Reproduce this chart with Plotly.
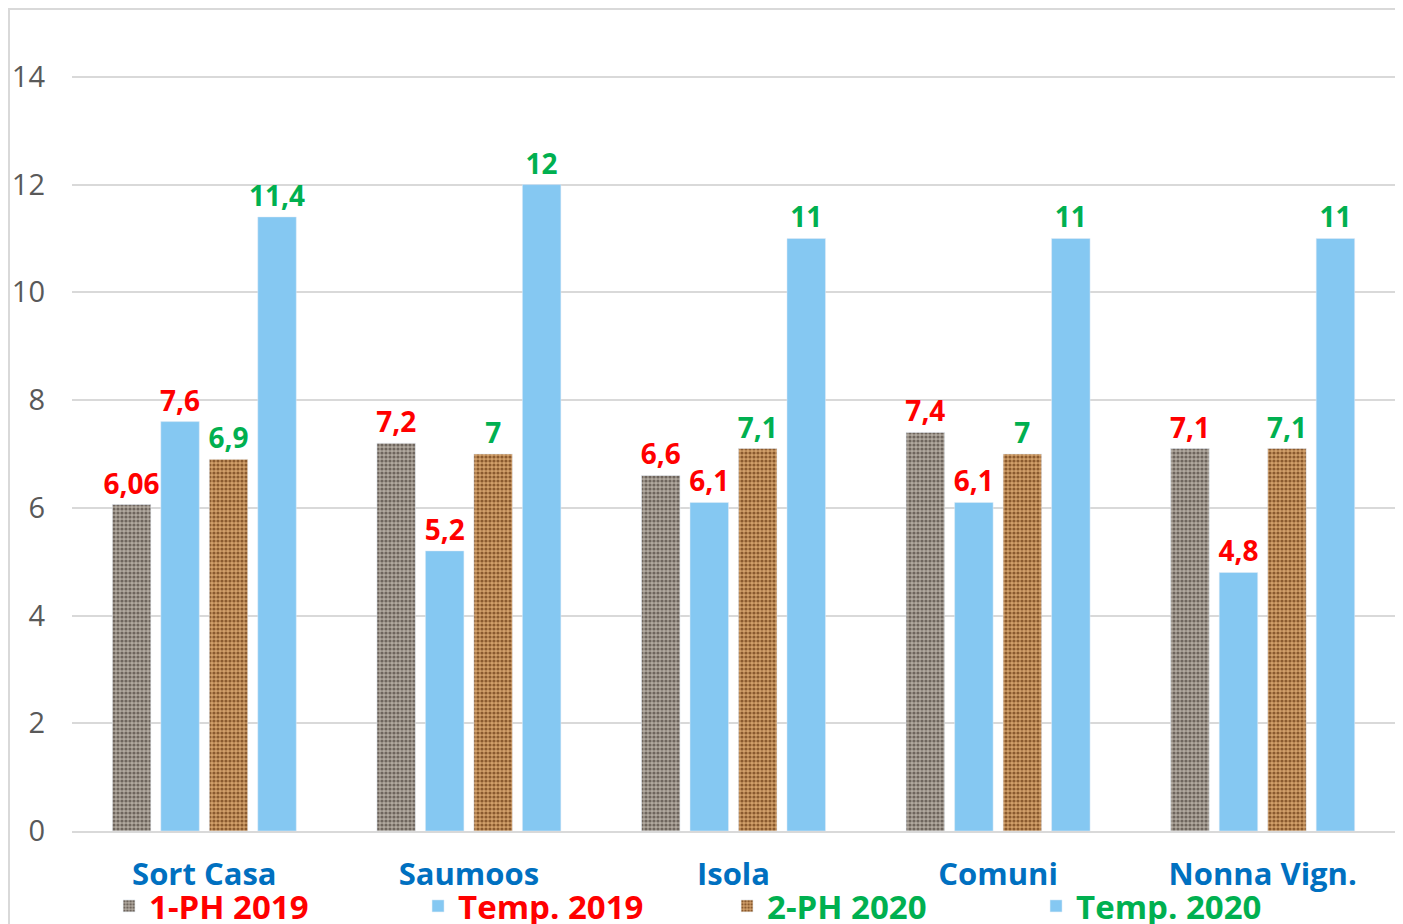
import plotly.graph_objects as go

categories = ["Sort Casa", "Saumoos", "Isola", "Comuni", "Nonna Vign."]
ph_2019 = [6.06, 7.2, 6.6, 7.4, 7.1]
temp_2019 = [7.6, 5.2, 6.1, 6.1, 4.8]
ph_2020 = [6.9, 7.0, 7.1, 7.0, 7.1]
temp_2020 = [11.4, 12, 11, 11, 11]

RED = "#FF0000"
GREEN = "#00B050"
BLUE_BAR = "#85C8F2"
BOLD = "Open Sans"

series = [
    ("1-PH 2019", ph_2019, RED, dict(color="#A8A097", pattern=dict(shape=".", fgcolor="#6E655D", bgcolor="#B1A99F", size=4, solidity=0.5, fillmode="replace"))),
    ("Temp. 2019", temp_2019, RED, dict(color=BLUE_BAR)),
    ("2-PH 2020", ph_2020, GREEN, dict(color="#C68F58", pattern=dict(shape=".", fgcolor="#8A5A2E", bgcolor="#D2A06A", size=4, solidity=0.5, fillmode="replace"))),
    ("Temp. 2020", temp_2020, GREEN, dict(color=BLUE_BAR)),
]

fig = go.Figure()
for name, vals, col, marker in series:
    fig.add_trace(go.Bar(
        x=categories, y=vals,
        name=f"<span style='color:{col}'><b>{name}</b></span>",
        marker=marker,
        texttemplate="%{y}",
        textposition="outside",
        constraintext="none",
        cliponaxis=False,
        textfont=dict(family=BOLD, size=28, color=col, weight="bold"),
    ))

W, H = 1395, 916
L, R, T, B = 64, 8, 15, 93
PW, PH = W - L - R, H - T - B

fig.update_layout(
    width=W, height=H,
    barmode="group", bargap=0.267, bargroupgap=0.206,
    separators=",.",
    plot_bgcolor="white", paper_bgcolor="white",
    margin=dict(l=L, r=R, t=T, b=B, autoexpand=False),
    showlegend=True,
    legend=dict(orientation="h", x=0.028, xanchor="left", y=-0.0928, yanchor="middle",
                entrywidth=264, entrywidthmode="pixels", bgcolor="rgba(0,0,0,0)",
                font=dict(family=BOLD, size=33)),
    xaxis=dict(tickfont=dict(family=BOLD, size=31, color="#0070C0", weight="bold"),
               ticklabelstandoff=15, showline=True, linecolor="#D9D9D9", linewidth=2),
    yaxis=dict(range=[0, 15], dtick=2, tick0=0, showgrid=True, gridcolor="#D9D9D9", gridwidth=2,
               zeroline=False, tickfont=dict(family="Open Sans", size=29, color="#595959"),
               ticklabelstandoff=26),
    shapes=[dict(type="rect", xref="paper", yref="paper",
                 x0=(1 - L) / PW, x1=(1390 - L) / PW,
                 y0=(PH + T - (H + 20)) / PH, y1=(PH + T - 1) / PH,
                 line=dict(color="#D9D9D9", width=2), fillcolor="rgba(0,0,0,0)", layer="below")],
)

fig.write_html("out.html")
